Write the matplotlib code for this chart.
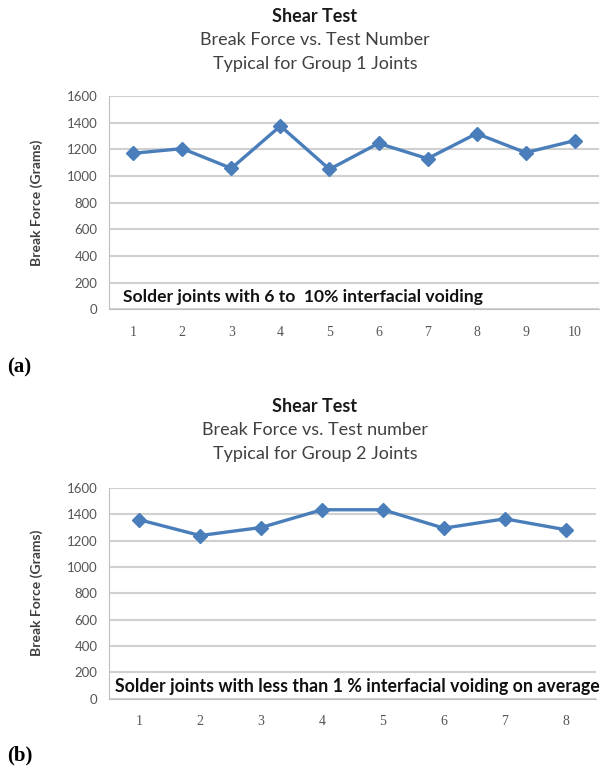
import matplotlib
matplotlib.use("Agg")
import matplotlib.pyplot as plt

# group 1 shear results
tests_g1 = [1, 2, 3, 4, 5, 6, 7, 8, 9, 10]
force_g1 = [1170, 1205, 1057, 1375, 1050, 1245, 1130, 1318, 1175, 1265]

# group 2 shear results
tests_g2 = [1, 2, 3, 4, 5, 6, 7, 8]
force_g2 = [1359, 1239, 1300, 1435, 1435, 1295, 1366, 1283]

yticks = [0, 200, 400, 600, 800, 1000, 1200, 1400, 1600]

titles_g1 = ["Shear Test", "Break Force vs. Test Number", "Typical for Group 1 Joints"]
titles_g2 = ["Shear Test", "Break Force vs. Test number", "Typical for Group 2 Joints"]
note_g1 = "Solder joints with 6 to  10% interfacial voiding"
note_g2 = "Solder joints with less than 1 % interfacial voiding on average"

blue = "#4a7ebb"
grid = "#d0d0d0"
sans = ["Lato", "DejaVu Sans"]
serif = ["Liberation Serif", "DejaVu Serif"]

fig = plt.figure(figsize=(6.01, 7.71), dpi=100)


def panel(rect, x, y, titles, title_y, note, note_x, note_size, tag, tag_y):
    ax = fig.add_axes(rect)
    ax.plot(x, y, color=blue, lw=2.4, marker="D", ms=7, mfc=blue, mec=blue,
            clip_on=False, zorder=3)
    ax.set_xlim(0.5, len(x) + 0.5)
    ax.set_ylim(0, 1600)
    ax.set_xticks(x)
    ax.set_xticklabels([str(v) for v in x], fontsize=10, family=serif,
                       color="#555555")
    ax.set_yticks(yticks)
    ax.set_yticklabels([str(v) for v in yticks], fontsize=9.5, family=sans,
                       color="#555555")
    ax.tick_params(axis="both", length=0)
    ax.tick_params(axis="x", pad=12)
    ax.tick_params(axis="y", pad=8)
    ax.grid(axis="y", color=grid, lw=1.5)
    ax.set_axisbelow(True)
    for s in ["top", "right"]:
        ax.spines[s].set_visible(False)
    ax.spines["left"].set_color("#bfbfbf")
    ax.spines["bottom"].set_color("#bfbfbf")
    ax.set_ylabel("Break Force (Grams)", fontsize=10, family=sans,
                  fontweight="bold", color="#404040")
    ax.yaxis.set_label_coords(-0.135, 0.5)
    ax.text(note_x, 0.055, note, transform=ax.transAxes, fontsize=note_size,
            family=sans, fontweight="bold", color="#111111", va="center")

    fig.text(0.524, title_y, titles[0], ha="center", va="center",
             fontsize=13, family=sans, fontweight="bold", color="#1a1a1a")
    fig.text(0.524, title_y - 0.031, titles[1], ha="center", va="center",
             fontsize=13, family=sans, color="#404040")
    fig.text(0.524, title_y - 0.062, titles[2], ha="center", va="center",
             fontsize=13, family=sans, color="#404040")
    fig.text(0.012, tag_y, tag, ha="left", va="center", fontsize=15,
             family=serif, fontweight="bold", color="black")
    return ax


panel([0.181, 0.599, 0.816, 0.2765], tests_g1, force_g1, titles_g1,
      0.979, note_g1, 0.03, 12.6, "(a)", 0.523)
panel([0.181, 0.094, 0.811, 0.273], tests_g2, force_g2, titles_g2,
      0.473, note_g2, 0.012, 12.8, "(b)", 0.020)

fig.savefig("out.png", dpi=100)
